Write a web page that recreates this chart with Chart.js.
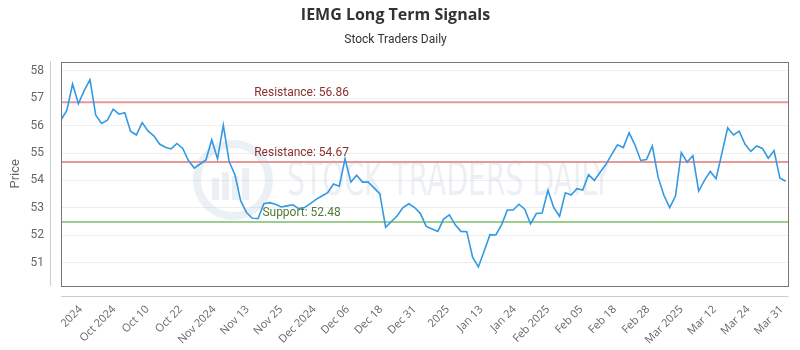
<!DOCTYPE html>
<html><head><meta charset="utf-8">
<script src="https://cdn.jsdelivr.net/npm/chart.js@4.4.1/dist/chart.umd.min.js"></script>
<style>html,body{margin:0;padding:0;background:#fff}</style>
</head><body>
<canvas id="c" width="800" height="350"></canvas>
<script>
const chartTitle = 'IEMG Long Term Signals';
const chartSubtitle = 'Stock Traders Daily';
const yAxisTitle = 'Price';
const xTickLabels = ['2024','Oct 2024','Oct 10','Oct 22','Nov 2024','Nov 13','Nov 25','Dec 2024','Dec 06','Dec 18','Dec 31','2025','Jan 13','Jan 24','Feb 2025','Feb 05','Feb 18','Feb 28','Mar 2025','Mar 12','Mar 24','Mar 31'];
const yTicks = [51,52,53,54,55,56,57,58];
const prices = [
56.20,56.56,57.52,56.80,57.28,57.68,56.38,56.08,56.20,56.60,
56.42,56.47,55.80,55.66,56.11,55.81,55.63,55.33,55.21,55.15,
55.35,55.17,54.72,54.45,54.60,54.75,55.48,54.79,56.02,54.69,
54.21,53.25,52.83,52.62,52.61,53.15,53.19,53.13,53.03,53.07,
53.11,52.97,53.01,53.15,53.31,53.43,53.55,53.87,53.79,54.79,
53.94,54.19,53.94,53.94,53.73,53.51,52.29,52.50,52.71,53.01,
53.15,53.01,52.79,52.32,52.23,52.14,52.59,52.74,52.38,52.14,
52.13,51.20,50.84,51.42,52.02,52.01,52.38,52.92,52.92,53.13,
52.95,52.41,52.79,52.81,53.64,53.01,52.69,53.55,53.47,53.70,
53.65,54.21,54.00,54.30,54.59,54.95,55.30,55.20,55.74,55.30,
54.73,54.76,55.26,54.12,53.46,53.01,53.43,55.02,54.67,54.90,
53.61,54.00,54.33,54.06,54.99,55.92,55.66,55.80,55.32,55.06,
55.26,55.17,54.81,55.09,54.09,53.97];
const resistanceLevels = [56.86, 54.67];
const supportLevels = [52.48];

const xMax = prices.length - 0.5;
const tickFirst = 3.4, tickLast = 124.3;
const tickStep = (tickLast - tickFirst) / (xTickLabels.length - 1);

const levelDatasets = [];
resistanceLevels.forEach(v => levelDatasets.push({data:[{x:0,y:v},{x:xMax,y:v}], borderColor:'#e79999', borderWidth:2, pointRadius:0, order:2, kind:'Resistance', level:v}));
supportLevels.forEach(v => levelDatasets.push({data:[{x:0,y:v},{x:xMax,y:v}], borderColor:'#9ccf8e', borderWidth:2, pointRadius:0, order:2, kind:'Support', level:v}));

const decor = {
  id:'decor',
  beforeDatasetsDraw(chart){
    const ctx = chart.ctx;
    ctx.save();
    ctx.strokeStyle = 'rgba(175,195,215,0.25)';
    ctx.fillStyle = 'rgba(175,195,215,0.25)';
    ctx.lineWidth = 8;
    ctx.beginPath(); ctx.arc(233,180,36,0,Math.PI*2); ctx.stroke();
    [[212,178,7,22],[222,172,7,28],[232,176,7,24],[242,168,7,32]].forEach(b=>ctx.fillRect(b[0],b[1],b[2],b[3]));
    ctx.font = '46px "Liberation Sans Narrow", "DejaVu Sans Condensed", sans-serif';
    ctx.textBaseline = 'alphabetic';
    const txt = 'STOCK TRADERS DAILY';
    const w = ctx.measureText(txt).width;
    ctx.translate(287,195);
    ctx.scale(323/w,1);
    ctx.fillStyle = 'rgba(185,200,215,0.28)';
    ctx.fillText(txt,0,0);
    ctx.restore();
  },
  afterDatasetsDraw(chart){
    const ctx = chart.ctx, xs = chart.scales.x, ys = chart.scales.y;
    ctx.save();
    ctx.font = '12px Roboto, sans-serif';
    ctx.textAlign = 'center';
    ctx.textBaseline = 'middle';
    chart.data.datasets.forEach(ds => {
      if (!ds.kind) return;
      ctx.fillStyle = ds.kind === 'Support' ? '#4d7a3a' : '#8a3030';
      ctx.fillText(ds.kind + ': ' + ds.level.toFixed(2), xs.getPixelForValue(41.5), ys.getPixelForValue(ds.level) - 9);
    });
    const a = chart.chartArea;
    ctx.strokeStyle = '#777';
    ctx.lineWidth = 1;
    ctx.strokeRect(Math.round(a.left)+0.5, Math.round(a.top)+0.5, Math.round(a.right-a.left)-1, Math.round(a.bottom-a.top));
    ctx.strokeStyle = '#ccc';
    ctx.beginPath();
    ctx.moveTo(Math.round(a.left)-10.5, a.top); ctx.lineTo(Math.round(a.left)-10.5, a.bottom);
    ctx.moveTo(a.left, Math.round(a.bottom)+10.5); ctx.lineTo(a.right, Math.round(a.bottom)+10.5);
    ctx.stroke();
    ctx.restore();
  }
};

new Chart(document.getElementById('c'), {
  type:'line',
  data:{datasets:[
    {data: prices.map((p,i)=>({x:i,y:p})), borderColor:'#3399e3', borderWidth:1.6, pointRadius:0, tension:0, order:0},
    ...levelDatasets
  ]},
  options:{
    responsive:false, animation:false,
    layout:{padding:{left:0,right:9,top:0,bottom:0}},
    plugins:{
      legend:{display:false}, tooltip:{enabled:false},
      title:{display:true,text:chartTitle,color:'#333',font:{family:'Open Sans',size:16,weight:'bold'},padding:{top:6,bottom:4}},
      subtitle:{display:true,text:chartSubtitle,color:'#333',font:{family:'Roboto',size:12},padding:{top:4,bottom:14}}
    },
    scales:{
      x:{type:'linear',min:0,max:xMax,
        grid:{display:false}, border:{display:false},
        afterBuildTicks: s => { s.ticks = xTickLabels.map((l,i)=>({value: tickFirst + i*tickStep})); },
        ticks:{autoSkip:false,maxRotation:45,minRotation:45,padding:9,color:'#666',font:{family:'Open Sans',size:11},
          callback:(v,i)=>xTickLabels[i]},
        afterFit: s => { s.height = 64; }
      },
      y:{min:50.145,max:58.34,
        afterBuildTicks: s => { s.ticks = yTicks.map(v=>({value:v})); },
        grid:{color:'#eeeeee',drawTicks:false}, border:{display:false},
        ticks:{padding:17,color:'#666',font:{family:'Roboto',size:12}},
        title:{display:true,text:yAxisTitle,color:'#666',font:{family:'Roboto',size:13},padding:{top:8,bottom:0}},
        afterFit: s => { s.width = 61; }
      }
    }
  },
  plugins:[decor]
});
</script>
</body></html>
